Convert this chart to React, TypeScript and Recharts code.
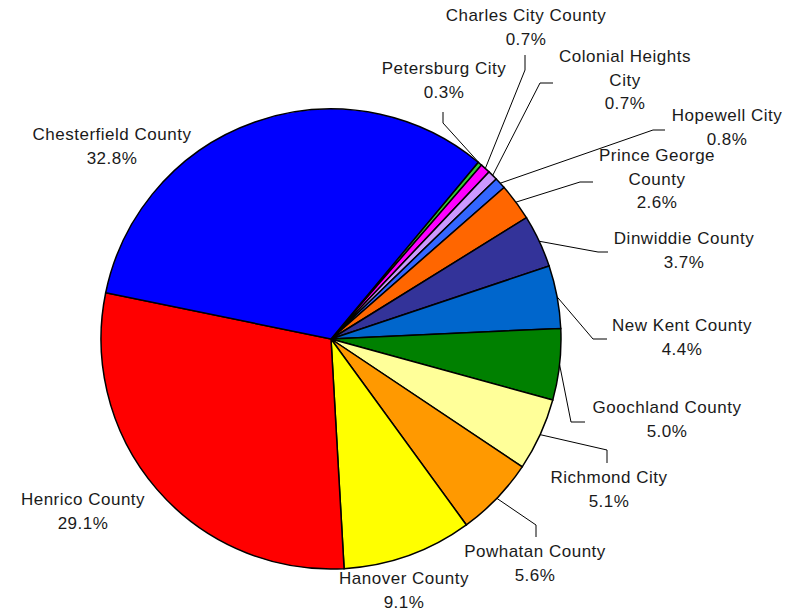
import { Cell, Pie, PieChart } from 'recharts';

const counties = [
  'Petersburg City',
  'Charles City County',
  'Colonial Heights City',
  'Hopewell City',
  'Prince George County',
  'Dinwiddie County',
  'New Kent County',
  'Goochland County',
  'Richmond City',
  'Powhatan County',
  'Hanover County',
  'Henrico County',
  'Chesterfield County',
];

const shares = [0.3, 0.7, 0.7, 0.8, 2.6, 3.7, 4.4, 5.0, 5.1, 5.6, 9.1, 29.1, 32.8];

const colors = [
  '#33cc33',
  '#ff00ff',
  '#cc99ff',
  '#3366ff',
  '#ff6600',
  '#333399',
  '#0066cc',
  '#008000',
  '#ffff99',
  '#ff9900',
  '#ffff00',
  '#ff0000',
  '#0000ff',
];

// how the names wrap in the labels
const wrapped: Record<string, string[]> = {
  'Colonial Heights City': ['Colonial Heights', 'City'],
  'Prince George County': ['Prince George', 'County'],
};

// label placement relative to the pie centre: text centre of first line, leader elbow, leader end
const labelLayout: { tx: number; ty: number; leader?: [number, number, number, number] }[] = [
  { tx: 113, ty: -269, leader: [112, -216, 112, -227] },
  { tx: 195, ty: -322, leader: [194, -269, 194, -284] },
  { tx: 294, ty: -281, leader: [209, -256, 222, -256] },
  { tx: 396, ty: -222, leader: [322, -209, 334, -209] },
  { tx: 326, ty: -182, leader: [249, -157, 262, -157] },
  { tx: 353, ty: -99, leader: [267, -87, 277, -87] },
  { tx: 351, ty: -12, leader: [262, 0, 276, 0] },
  { tx: 336, ty: 70, leader: [240, 83, 254, 83] },
  { tx: 278, ty: 140, leader: [276, 111, 276, 124] },
  { tx: 204, ty: 214, leader: [205, 186, 205, 198] },
  { tx: 73, ty: 241 },
  { tx: -248, ty: 162 },
  { tx: -219, ty: -203 },
];

const data = counties.map((name, i) => ({ name, value: shares[i] }));

const RAD = Math.PI / 180;

function renderLabel(props: any) {
  const { cx, cy, midAngle, outerRadius, index } = props;
  const layout = labelLayout[index];
  const name = counties[index];
  const lines = [...(wrapped[name] ?? [name]), `${shares[index].toFixed(1)}%`];
  const sx = cx + Math.cos(-midAngle * RAD) * outerRadius;
  const sy = cy + Math.sin(-midAngle * RAD) * outerRadius;
  return (
    <g key={`lbl-${index}`}>
      {layout.leader && (
        <polyline
          points={`${sx},${sy} ${cx + layout.leader[0]},${cy + layout.leader[1]} ${cx + layout.leader[2]},${cy + layout.leader[3]}`}
          fill="none"
          stroke="#000"
          strokeWidth={1}
        />
      )}
      <text
        x={cx + layout.tx}
        y={cy + layout.ty}
        textAnchor="middle"
        dominantBaseline="middle"
        fontSize={17}
        letterSpacing={0.5}
        fill="#1a1a1a"
        fontFamily="Arial, 'Liberation Sans', sans-serif"
      >
        {lines.map((ln, k) => (
          <tspan key={k} x={cx + layout.tx} dy={k === 0 ? 0 : 23.5}>
            {ln}
          </tspan>
        ))}
      </text>
    </g>
  );
}

export default function App() {
  return (
    <div style={{ position: 'absolute', left: 0, top: 0, background: '#fff' }}>
      <PieChart width={803} height={613} margin={{ top: 0, right: 0, bottom: 0, left: 0 }}>
        <Pie
          data={data}
          dataKey="value"
          nameKey="name"
          cx={331}
          cy={339}
          outerRadius={230}
          startAngle={50.2}
          endAngle={-309.8}
          stroke="#000"
          strokeWidth={1.5}
          label={renderLabel}
          labelLine={false}
          isAnimationActive={false}
        >
          {data.map((d, i) => (
            <Cell key={d.name} fill={colors[i]} />
          ))}
        </Pie>
      </PieChart>
    </div>
  );
}
